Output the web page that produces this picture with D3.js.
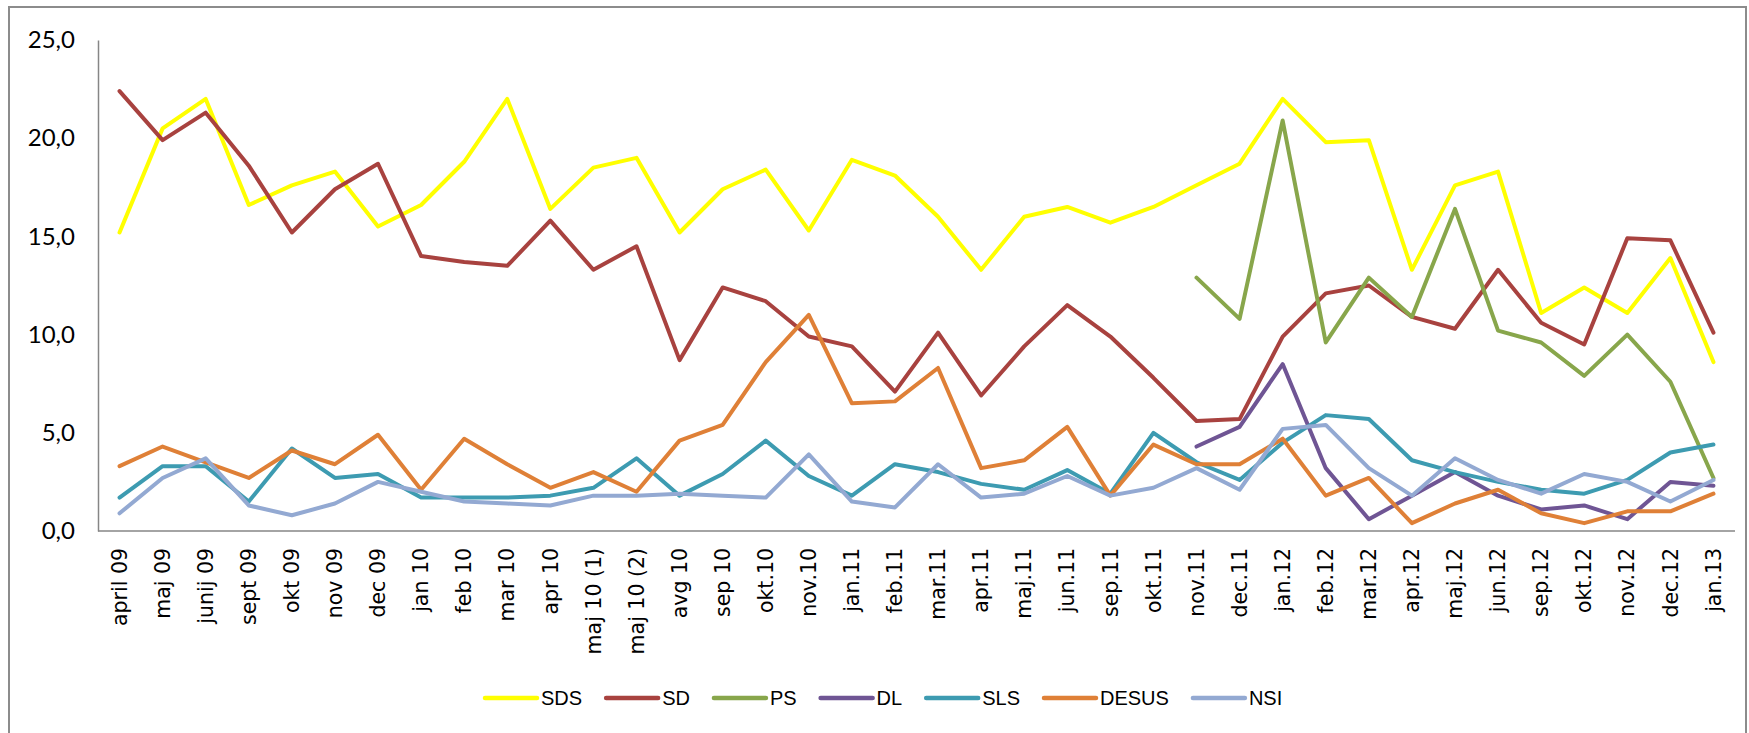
<!DOCTYPE html>
<html>
<head>
<meta charset="utf-8">
<script src="https://cdn.jsdelivr.net/npm/d3@7"></script>
<style>
  body { margin: 0; background: #fff; }
  svg { display: block; }
</style>
</head>
<body>
<div id="viz"></div>
<script>
const width = 1749;
const height = 733;
const plot = {left: 98, right: 1735, top: 40, bottom: 531};

// Data
const months = ['april 09', 'maj 09', 'junij 09', 'sept 09', 'okt 09', 'nov 09', 'dec 09', 'jan 10',
  'feb 10', 'mar 10', 'apr 10', 'maj 10 (1)', 'maj 10 (2)', 'avg 10', 'sep 10', 'okt.10', 'nov.10',
  'jan.11', 'feb.11', 'mar.11', 'apr.11', 'maj.11', 'jun.11', 'sep.11', 'okt.11', 'nov.11', 'dec.11',
  'jan.12', 'feb.12', 'mar.12', 'apr.12', 'maj.12', 'jun.12', 'sep.12', 'okt.12', 'nov.12', 'dec.12', 'jan.13'];

const partyNames = ['SDS', 'SD', 'PS', 'DL', 'SLS', 'DESUS', 'NSI'];

const sds = [15.2, 20.5, 22.0, 16.6, 17.6, 18.3, 15.5, 16.6, 18.8, 22.0, 16.4, 18.5, 19.0, 15.2, 17.4, 18.4,
  15.3, 18.9, 18.1, 16.0, 13.3, 16.0, 16.5, 15.7, 16.5, 17.6, 18.7, 22.0, 19.8, 19.9, 13.3, 17.6, 18.3,
  11.1, 12.4, 11.1, 13.9, 8.6];
const sd = [22.4, 19.9, 21.3, 18.6, 15.2, 17.4, 18.7, 14.0, 13.7, 13.5, 15.8, 13.3, 14.5, 8.7, 12.4, 11.7,
  9.9, 9.4, 7.1, 10.1, 6.9, 9.4, 11.5, 9.9, 7.8, 5.6, 5.7, 9.9, 12.1, 12.5, 10.9, 10.3, 13.3, 10.6, 9.5,
  14.9, 14.8, 10.1];
const ps = [null, null, null, null, null, null, null, null, null, null, null, null, null, null, null, null,
  null, null, null, null, null, null, null, null, null, 12.9, 10.8, 20.9, 9.6, 12.9, 10.9, 16.4, 10.2,
  9.6, 7.9, 10.0, 7.6, 2.7];
const dl = [null, null, null, null, null, null, null, null, null, null, null, null, null, null, null, null,
  null, null, null, null, null, null, null, null, null, 4.3, 5.3, 8.5, 3.2, 0.6, 1.8, 3.0, 1.8, 1.1, 1.3,
  0.6, 2.5, 2.3];
const sls = [1.7, 3.3, 3.3, 1.5, 4.2, 2.7, 2.9, 1.7, 1.7, 1.7, 1.8, 2.2, 3.7, 1.8, 2.9, 4.6, 2.8, 1.8,
  3.4, 3.0, 2.4, 2.1, 3.1, 1.9, 5.0, 3.5, 2.6, 4.5, 5.9, 5.7, 3.6, 3.0, 2.5, 2.1, 1.9, 2.6, 4.0, 4.4];
const desus = [3.3, 4.3, 3.5, 2.7, 4.1, 3.4, 4.9, 2.1, 4.7, 3.4, 2.2, 3.0, 2.0, 4.6, 5.4, 8.6, 11.0, 6.5,
  6.6, 8.3, 3.2, 3.6, 5.3, 1.8, 4.4, 3.4, 3.4, 4.7, 1.8, 2.7, 0.4, 1.4, 2.1, 0.9, 0.4, 1.0, 1.0, 1.9];
const nsi = [0.9, 2.7, 3.7, 1.3, 0.8, 1.4, 2.5, 2.0, 1.5, 1.4, 1.3, 1.8, 1.8, 1.9, 1.8, 1.7, 3.9, 1.5,
  1.2, 3.4, 1.7, 1.9, 2.8, 1.8, 2.2, 3.2, 2.1, 5.2, 5.4, 3.2, 1.8, 3.7, 2.6, 1.9, 2.9, 2.5, 1.5, 2.6];

const yTicks = [0, 5, 10, 15, 20, 25];

const colors = ['#FFFF00', '#A8423F', '#88A64B', '#6F5594', '#3D9BB1', '#DF8037', '#93A9D2'];

const series = [sds, sd, ps, dl, sls, desus, nsi].map((values, i) => ({
  name: partyNames[i],
  color: colors[i],
  values: values
}));

const svg = d3.select('#viz')
  .append('svg')
    .attr('width', width)
    .attr('height', height);

// Outer chart frame
svg.append('rect')
    .attr('x', 9)
    .attr('y', 7)
    .attr('width', 1737)
    .attr('height', 740)
    .attr('fill', 'none')
    .attr('stroke', '#8c8c8c')
    .attr('stroke-width', 2);

// Scales
const xScale = d3.scalePoint()
  .domain(months)
  .range([plot.left, plot.right])
  .padding(0.5);

const yScale = d3.scaleLinear()
  .domain([0, 25])
  .range([plot.bottom, plot.top]);

// Y axis
const yAxis = d3.axisLeft(yScale)
  .tickValues(yTicks)
  .tickSize(0)
  .tickPadding(23)
  .tickFormat(d => d3.format('.1f')(d).replace('.', ','));

const yAxisGroup = svg.append('g')
    .attr('transform', `translate(${plot.left},0)`)
    .call(yAxis);
yAxisGroup.select('.domain')
    .attr('stroke', '#868686')
    .attr('stroke-width', 1.5);
yAxisGroup.selectAll('text')
    .attr('fill', '#000')
    .style('font-family', 'Lato, "Liberation Sans", sans-serif')
    .style('font-size', '24px');

// X axis
svg.append('line')
    .attr('x1', plot.left)
    .attr('x2', plot.right)
    .attr('y1', plot.bottom)
    .attr('y2', plot.bottom)
    .attr('stroke', '#868686')
    .attr('stroke-width', 1.5);

svg.append('g')
    .attr('class', 'x-labels')
  .selectAll('text')
  .data(months)
  .join('text')
    .attr('transform', d => `translate(${xScale(d)},548) rotate(-90)`)
    .attr('text-anchor', 'end')
    .attr('dy', '0.35em')
    .style('font-family', '"DejaVu Sans", Verdana, sans-serif')
    .style('font-size', '20.5px')
    .attr('fill', '#000')
    .text(d => d);

// Lines
const line = d3.line()
  .defined(d => d.v !== null)
  .x(d => xScale(d.m))
  .y(d => yScale(d.v));

svg.append('g')
    .attr('class', 'lines')
  .selectAll('path')
  .data(series)
  .join('path')
    .attr('d', s => line(s.values.map((v, i) => ({m: months[i], v: v}))))
    .attr('fill', 'none')
    .attr('stroke', s => s.color)
    .attr('stroke-width', 4)
    .attr('stroke-linejoin', 'round')
    .attr('stroke-linecap', 'round');

// Legend
const legend = svg.append('g')
    .attr('class', 'legend')
    .attr('transform', 'translate(483,698)');
let lx = 0;
series.forEach(s => {
  const item = legend.append('g')
      .attr('transform', `translate(${lx},0)`);
  item.append('line')
      .attr('x1', 2)
      .attr('x2', 54)
      .attr('stroke', s.color)
      .attr('stroke-width', 4.5)
      .attr('stroke-linecap', 'round');
  const label = item.append('text')
      .attr('x', 58)
      .attr('dy', '0.35em')
      .style('font-family', '"Liberation Sans", Arial, sans-serif')
      .style('font-size', '20px')
      .attr('fill', '#000')
      .text(s.name);
  lx += 58 + label.node().getComputedTextLength() + 22;
});
</script>
</body>
</html>
